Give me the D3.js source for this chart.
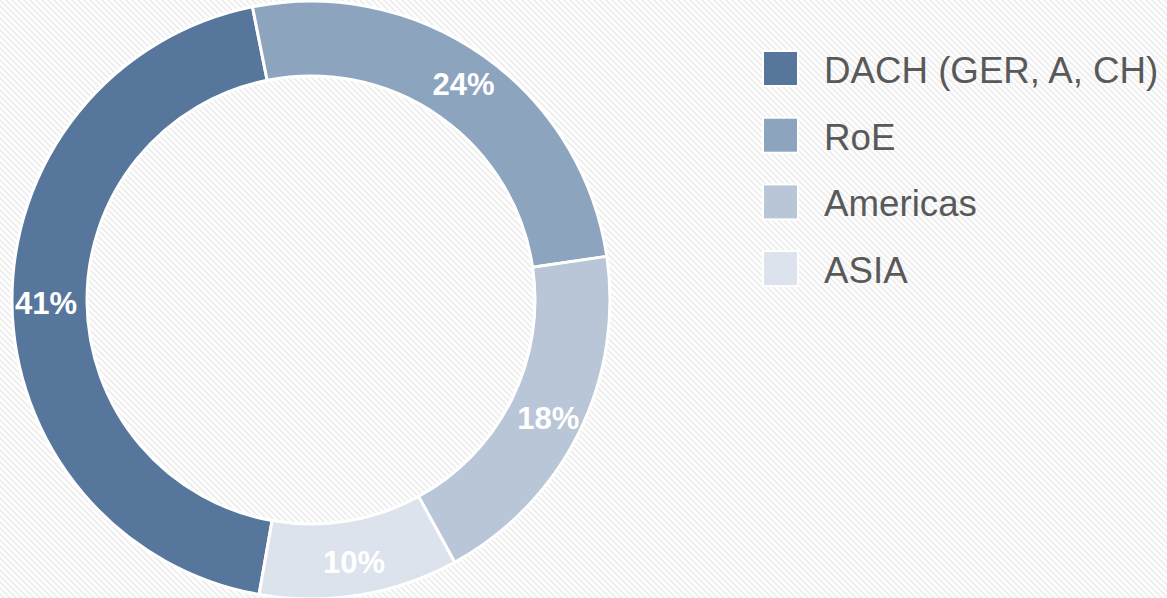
<!DOCTYPE html>
<html>
<head>
<meta charset="utf-8">
<script src="https://cdn.jsdelivr.net/npm/d3@7"></script>
<style>
  html, body { margin: 0; padding: 0; background: #fff; }
  svg { display: block; }
</style>
</head>
<body>
<div id="chart"></div>
<script>
// data
var regions = ["DACH (GER, A, CH)", "RoE", "Americas", "ASIA"];
var shares = [41, 24, 18, 10];
var labels = ["41%", "24%", "18%", "10%"];
var colors = ["#56769c", "#8da4bf", "#b9c6d7", "#dce3ec"];

var width = 1167, height = 598;

var svg = d3.select("#chart")
  .append("svg")
  .attr("width", width)
  .attr("height", height);

// diagonal stripe background
var defs = svg.append("defs");
var pat = defs.append("pattern")
  .attr("id", "stripes")
  .attr("patternUnits", "userSpaceOnUse")
  .attr("width", 6)
  .attr("height", 6);
pat.append("rect").attr("width", 6).attr("height", 6).attr("fill", "#ffffff");
pat.append("path")
  .attr("d", "M-1,-1 L7,7 M-4,2 L2,8 M4,-2 L8,2")
  .attr("stroke", "#ededed")
  .attr("stroke-width", 1.6);

svg.append("rect")
  .attr("width", width)
  .attr("height", height)
  .attr("fill", "url(#stripes)");

// donut
var cx = 311, cy = 300, outerR = 299, innerR = 224;
var start = 190 * Math.PI / 180;

var pie = d3.pie()
  .sort(null)
  .value(function(d) { return d; })
  .startAngle(start)
  .endAngle(start + 2 * Math.PI);

var arc = d3.arc().innerRadius(innerR).outerRadius(outerR);
var labelArc = d3.arc().innerRadius(265).outerRadius(265);

var g = svg.append("g").attr("transform", "translate(" + cx + "," + cy + ")");
var arcs = pie(shares);

g.selectAll("path.slice")
  .data(arcs)
  .enter().append("path")
  .attr("class", "slice")
  .attr("d", arc)
  .attr("fill", function(d, i) { return colors[i]; })
  .attr("stroke", "#ffffff")
  .attr("stroke-width", 3);

g.selectAll("text.lbl")
  .data(arcs)
  .enter().append("text")
  .attr("class", "lbl")
  .attr("transform", function(d) { return "translate(" + labelArc.centroid(d) + ")"; })
  .attr("text-anchor", "middle")
  .attr("dy", "0.36em")
  .attr("fill", "#ffffff")
  .style("font-family", "'Liberation Sans', Arial, sans-serif")
  .style("font-weight", "bold")
  .style("font-size", "31px")
  .text(function(d, i) { return labels[i]; });

// legend
var legend = svg.append("g").attr("transform", "translate(763,51)");
var rowH = 66.7;

var items = legend.selectAll("g.item")
  .data(regions)
  .enter().append("g")
  .attr("class", "item")
  .attr("transform", function(d, i) { return "translate(0," + (i * rowH) + ")"; });

items.append("rect")
  .attr("width", 35)
  .attr("height", 35)
  .attr("fill", function(d, i) { return colors[i]; })
  .attr("stroke", "#ffffff")
  .attr("stroke-width", 2);

items.append("text")
  .attr("x", 61)
  .attr("y", 32)
  .attr("fill", "#595959")
  .style("font-family", "'Liberation Sans', Arial, sans-serif")
  .style("font-size", "36.7px")
  .text(function(d) { return d; });
</script>
</body>
</html>
